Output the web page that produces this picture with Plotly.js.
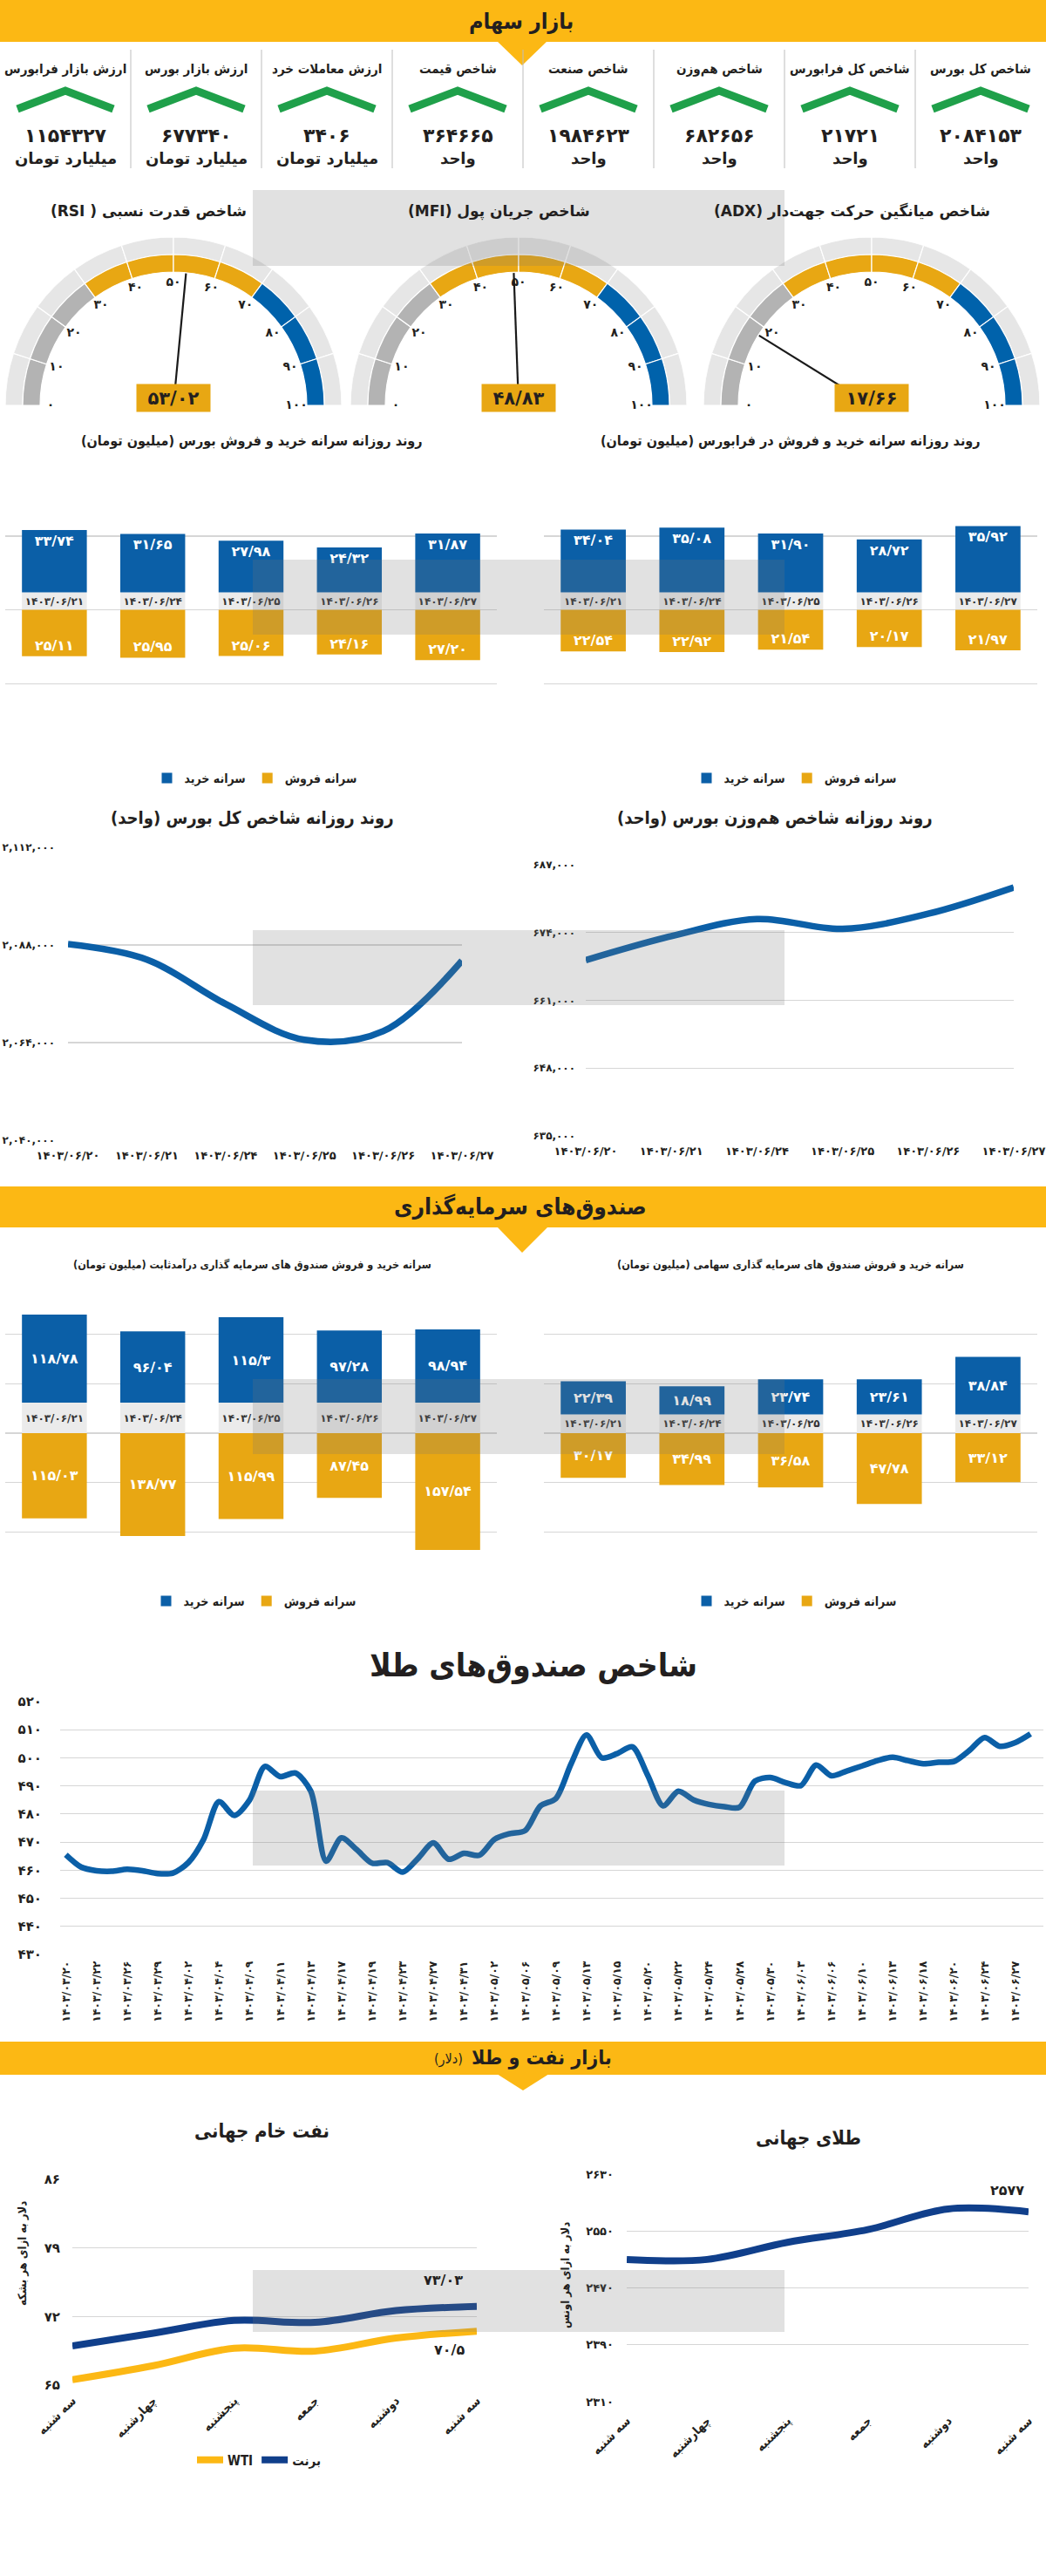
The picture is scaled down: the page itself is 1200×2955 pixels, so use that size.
<!DOCTYPE html>
<html>
<head>
<meta charset="utf-8">
<script src="https://cdn.plot.ly/plotly-3.0.1.min.js"></script>
<style>
  html, body { margin: 0; padding: 0; background: #fff; }
  #myPlot { width: 1200px; height: 2955px; }
</style>
</head>
<body>
<div id="myPlot"></div>
<script>
// ---------- data ----------
const cardTitles = ["شاخص کل بورس", "شاخص کل فرابورس", "شاخص هم‌وزن", "شاخص صنعت",
    "شاخص قیمت", "ارزش معاملات خرد", "ارزش بازار بورس", "ارزش بازار فرابورس"];
const cardValues = [2084153, 21721, 682656, 1984623, 364665, 3406, 677340, 1154327];
const cardUnits = ["واحد", "واحد", "واحد", "واحد", "واحد", "میلیارد تومان", "میلیارد تومان", "میلیارد تومان"];

const gaugeTitles = ["شاخص قدرت نسبی ( RSI)", "شاخص جریان پول (MFI)", "شاخص میانگین حرکت جهت‌دار (ADX)"];
const gaugeValues = [53.02, 48.83, 17.66];
const gaugeTicks = [0, 10, 20, 30, 40, 50, 60, 70, 80, 90, 100];

const tradeDates = ["1403/06/21", "1403/06/24", "1403/06/25", "1403/06/26", "1403/06/27"];
const bourseBuy = [33.74, 31.65, 27.98, 24.32, 31.87];
const bourseSell = [25.11, 25.95, 25.06, 24.16, 27.20];
const faraBuy = [34.04, 35.08, 31.90, 28.72, 35.92];
const faraSell = [22.54, 22.92, 21.54, 20.17, 21.97];

const indexDates = ["1403/06/20", "1403/06/21", "1403/06/24", "1403/06/25", "1403/06/26", "1403/06/27"];
const totalIndex = [2088200, 2084400, 2073500, 2064700, 2066800, 2084153];
const totalTicks = [2040000, 2064000, 2088000, 2112000];
const ewIndex = [668700, 673300, 676600, 674700, 677600, 682656];
const ewTicks = [635000, 648000, 661000, 674000, 687000];

const fixedBuy = [118.78, 96.04, 115.3, 97.28, 98.94];
const fixedSell = [115.03, 138.77, 115.99, 87.45, 157.54];
const equityBuy = [22.39, 18.99, 23.74, 23.61, 38.84];
const equitySell = [30.17, 34.99, 36.58, 47.78, 33.12];

const goldFundDates = ["1403/03/20", "1403/03/22", "1403/03/26", "1403/03/29", "1403/04/02", "1403/04/04",
    "1403/04/09", "1403/04/11", "1403/04/13", "1403/04/17", "1403/04/19", "1403/04/23", "1403/04/27",
    "1403/04/31", "1403/05/02", "1403/05/06", "1403/05/09", "1403/05/13", "1403/05/15", "1403/05/20",
    "1403/05/22", "1403/05/24", "1403/05/28", "1403/05/30", "1403/06/03", "1403/06/06", "1403/06/10",
    "1403/06/13", "1403/06/18", "1403/06/20", "1403/06/24", "1403/06/27"];
const goldFundIndex = [465.5, 461.1, 459.8, 459.6, 460.3, 459.8, 458.8, 459.0, 462.7, 471.0,
    484.4, 479.5, 485.0, 496.9, 493.3, 494.6, 488.1, 463.2, 471.5, 467.3,
    462.5, 462.7, 459.3, 464.2, 469.7, 463.9, 466.0, 465.3, 471.0, 473.0,
    474.1, 482.9, 485.5, 497.9, 508.1, 500.0, 501.5, 503.9, 493.8, 482.9,
    488.1, 485.0, 483.4, 482.6, 482.4, 491.7, 493.0, 491.2, 490.1, 497.4,
    493.6, 495.3, 497.1, 499.0, 500.2, 499.0, 497.9, 498.4, 498.7, 502.6,
    507.2, 504.1, 505.4, 508.5];
const goldFundTicks = [430, 440, 450, 460, 470, 480, 490, 500, 510, 520];

const weekDays = ["سه شنبه", "چهارشنبه", "پنجشنبه", "جمعه", "دوشنبه", "سه شنبه"];
const brent = [69.0, 70.3, 71.6, 71.4, 72.6, 73.03];
const wti = [65.55, 66.98, 68.76, 68.46, 69.8, 70.5];
const oilTicks = [65, 72, 79, 86];
const goldPrice = [2510, 2510, 2534, 2552, 2581, 2577];
const goldTicks = [2310, 2390, 2470, 2550, 2630];

// ---------- helpers ----------
const W = 1200, H = 2955;
const FONT = "DejaVu Sans";
const CFONT = "DejaVu Sans Condensed, DejaVu Sans";
const DARK = "#231f20";
const BLUE = "#0b5fa7";
const GOLD = "#e8a713";
const NAVY = "#103f8b";
const YELLOW = "#fcb814";
const GRID = "#d6d6d6";
const BAND = "#ebebeb";

const px = x => x / W;
const py = y => 1 - y / H;
const rtl = s => "\u202B" + s + "\u202C";
const FA = "۰۱۲۳۴۵۶۷۸۹";
const fa = s => String(s).replace(/[0-9]/g, d => FA[d]).replace(/\./g, "/");
const fnt = (size, color, weight) => ({ family: FONT, size: size, color: color || DARK, weight: weight || "bold" });
const cfnt = (size, color, weight) => ({ family: CFONT, size: size, color: color || DARK, weight: weight || "bold" });
const thousands = v => fa(v.toLocaleString("en-US"));

const data = [];
const annotations = [];
const shapes = [];

function note(text, x, y, font, extra) {
    return Object.assign({
        text: text, x: px(x), y: py(y), xref: "paper", yref: "paper",
        showarrow: false, xanchor: "center", yanchor: "middle", font: font
    }, extra || {});
}
function path(points, close) {
    return points.map((p, i) => (i ? "L" : "M") + px(p[0]) + "," + py(p[1])).join(" ") + (close ? " Z" : "");
}
function box(x0, y0, x1, y1, color, layer) {
    return { type: "rect", xref: "paper", yref: "paper", x0: px(x0), x1: px(x1), y0: py(y1), y1: py(y0),
        fillcolor: color, line: { width: 0 }, layer: layer || "below" };
}

const layout = {
    width: W, height: H, margin: { l: 0, r: 0, t: 0, b: 0 },
    paper_bgcolor: "#fff", plot_bgcolor: "rgba(0,0,0,0)",
    font: { family: FONT, color: DARK },
    barmode: "relative", bargap: 0.34, hovermode: false
};

// ---------- banners ----------
shapes.push(box(0, 0, W, 48, YELLOW));
shapes.push({ type: "path", xref: "paper", yref: "paper", path: path([[570, 47], [599, 75], [628, 47]], true), fillcolor: YELLOW, line: { width: 0 } });
annotations.push(note(rtl("بازار سهام"), 598, 25, cfnt(25)));

shapes.push(box(0, 1361, W, 1408, YELLOW));
shapes.push({ type: "path", xref: "paper", yref: "paper", path: path([[570, 1407], [599, 1437], [629, 1407]], true), fillcolor: YELLOW, line: { width: 0 } });
annotations.push(note(rtl("صندوق‌های سرمایه‌گذاری"), 597, 1384, cfnt(26)));

shapes.push(box(0, 2342, W, 2380, YELLOW));
shapes.push({ type: "path", xref: "paper", yref: "paper", path: path([[570, 2379], [600, 2398], [630, 2379]], true), fillcolor: YELLOW, line: { width: 0 } });
annotations.push(note(rtl("بازار نفت و طلا"), 704, 2360, cfnt(23), { xanchor: "right" }));
annotations.push(note(rtl("(دلار)"), 533, 2362, cfnt(16, DARK, "normal"), { xanchor: "right" }));

// ---------- summary cards ----------
cardTitles.forEach((t, i) => {
    const cx = 1125 - 150 * i;
    annotations.push(note(rtl(t), cx, 79, cfnt(15)));
    annotations.push(note(fa(cardValues[i]), cx, 155, fnt(22)));
    annotations.push(note(rtl(cardUnits[i]), cx, 182, fnt(18)));
    shapes.push({ type: "path", xref: "paper", yref: "paper", path: path([[cx - 55, 125], [cx, 104], [cx + 55, 125]]),
        line: { color: "#1fa04a", width: 9 } });
    if (i < cardTitles.length - 1) {
        shapes.push({ type: "line", xref: "paper", yref: "paper", x0: px(cx - 75), x1: px(cx - 75), y0: py(57), y1: py(193),
            line: { color: "#bdbdbd", width: 1 } });
    }
});

// ---------- gauges ----------
const gaugeCx = [199, 595, 1000];
const GR = 193, GY = 465;
const gaugeTitleX = [171, 572, 977];
gaugeValues.forEach((v, k) => {
    const sub = k ? "polar" + (k + 1) : "polar";
    layout[sub] = {
        domain: { x: [px(gaugeCx[k] - GR), px(gaugeCx[k] + GR)], y: [py(GY), py(GY - GR)] },
        sector: [0, 180], bgcolor: "rgba(0,0,0,0)",
        radialaxis: { visible: false, range: [0, GR] },
        angularaxis: { visible: false, rotation: 180, direction: "clockwise" }
    };
    const seg = gaugeTicks.slice(0, -1);
    const segTheta = seg.map(t => (t + 5) * 1.8);
    const segColor = seg.map(t => t < 30 ? "#b3b3b3" : t < 70 ? GOLD : "#0062ab");
    data.push({ type: "barpolar", subplot: sub, theta: segTheta, r: seg.map(() => 20), base: 173, width: 18,
        marker: { color: "#e6e6e6", line: { color: "#fff", width: 1.2 } }, showlegend: false, hoverinfo: "skip" });
    data.push({ type: "barpolar", subplot: sub, theta: segTheta, r: seg.map(() => 20), base: 153, width: 18,
        marker: { color: segColor, line: { color: "#fff", width: 1.2 } }, showlegend: false, hoverinfo: "skip" });
    data.push({ type: "scatterpolar", subplot: sub, mode: "text", r: gaugeTicks.map(() => 141),
        theta: gaugeTicks.map(t => t * 1.8), text: gaugeTicks.map(fa), textfont: fnt(14),
        cliponaxis: false, showlegend: false, hoverinfo: "skip" });
    data.push({ type: "scatterpolar", subplot: sub, mode: "lines", r: [0, 152], theta: [v * 1.8, v * 1.8],
        line: { color: "#1a1a1a", width: 2.2 }, showlegend: false, hoverinfo: "skip" });
    annotations.push(note(fa(v.toFixed(2)), gaugeCx[k], 456, fnt(21), { bgcolor: GOLD, width: 84, height: 31, borderpad: 0 }));
    annotations.push(note(rtl(gaugeTitles[k]), gaugeTitleX[k], 242, fnt(17)));
});

// ---------- per-capita bar charts ----------
function barSet(ax, x0, x1, y0, y1, lim, gridVals, bandPx, buy, sell, anchor, fmt, legendId) {
    const xa = "x" + ax, ya = "y" + ax;
    layout["xaxis" + ax] = { domain: [px(x0), px(x1)], anchor: ya, type: "category",
        showticklabels: false, showgrid: false, zeroline: false, showline: false, fixedrange: true };
    layout["yaxis" + ax] = { domain: [py(y1), py(y0)], anchor: xa, range: [-lim, lim],
        tickmode: "array", tickvals: gridVals, showticklabels: false, gridcolor: GRID, gridwidth: 1.5,
        zeroline: false, showline: false, fixedrange: true };
    const bandUnits = bandPx * 2 * lim / (y1 - y0);
    const cats = tradeDates.map(fa);
    const common = { type: "bar", x: cats, xaxis: xa, yaxis: ya, textposition: "inside",
        constraintext: "none", textangle: 0, hoverinfo: "skip" };
    data.push(Object.assign({}, common, { y: cats.map(() => bandUnits), marker: { color: BAND },
        text: cats, insidetextanchor: "middle", textfont: fnt(12, "#333"), showlegend: false }));
    data.push(Object.assign({}, common, { name: rtl("سرانه خرید"), y: buy, marker: { color: BLUE },
        text: buy.map(v => fa(fmt(v))), insidetextanchor: anchor, textfont: fnt(16, "#fff"), legend: legendId }));
    data.push(Object.assign({}, common, { name: rtl("سرانه فروش"), y: sell.map(v => -v), marker: { color: GOLD },
        text: sell.map(v => fa(fmt(v))), insidetextanchor: anchor, textfont: fnt(16, "#fff"), legend: legendId }));
}
const two = v => v.toFixed(2);
const plain = v => String(v);
const thirds = lim => [-3, -2, -1, 0, 1, 2, 3].map(k => k * lim / 3);
barSet("", 6, 570, 530, 869, 80, [-80, -40, 0, 40, 80], 20, bourseBuy, bourseSell, "end", two, "legend2");
barSet("2", 624, 1190, 530, 869, 80, [-80, -40, 0, 40, 80], 20, faraBuy, faraSell, "end", two, "legend3");
barSet("5", 6, 570, 1474, 1814, 200, thirds(200), 35, fixedBuy, fixedSell, "middle", plain, "legend4");
barSet("6", 624, 1190, 1474, 1814, 100, thirds(100), 21.5, equityBuy, equitySell, "middle", plain, "legend5");

annotations.push(note(rtl("روند روزانه سرانه خرید و فروش بورس (میلیون تومان)"), 289, 505, cfnt(16)));
annotations.push(note(rtl("روند روزانه سرانه خرید و فروش در فرابورس (میلیون تومان)"), 907, 505, cfnt(16)));
annotations.push(note(rtl("سرانه خرید و فروش صندوق های سرمایه گذاری درآمدثابت (میلیون تومان)"), 289, 1450, cfnt(12.5)));
annotations.push(note(rtl("سرانه خرید و فروش صندوق های سرمایه گذاری سهامی (میلیون تومان)"), 907, 1450, cfnt(12.5)));

const legendBase = { orientation: "h", xanchor: "center", yanchor: "middle", font: cfnt(14),
    bgcolor: "rgba(0,0,0,0)", traceorder: "normal", itemwidth: 30 };
layout.legend2 = Object.assign({}, legendBase, { x: px(293), y: py(893) });
layout.legend3 = Object.assign({}, legendBase, { x: px(912), y: py(893) });
layout.legend4 = Object.assign({}, legendBase, { x: px(292), y: py(1837) });
layout.legend5 = Object.assign({}, legendBase, { x: px(912), y: py(1837) });

// ---------- daily index lines ----------
function lineAxes(ax, x0, x1, y0, y1, range, ticks, xfont, yfont, xstand, ystand) {
    layout["xaxis" + ax] = { domain: [px(x0), px(x1)], anchor: "y" + ax, showgrid: false, zeroline: false,
        showline: false, ticks: "", tickfont: fnt(xfont), ticklabelstandoff: xstand, fixedrange: true };
    layout["yaxis" + ax] = { domain: [py(y1), py(y0)], anchor: "x" + ax, range: range, tickmode: "array",
        tickvals: ticks, gridcolor: GRID, gridwidth: 1.2, zeroline: false, showline: false, ticks: "",
        tickfont: fnt(yfont), ticklabelstandoff: ystand, fixedrange: true };
}
lineAxes("3", 78, 530, 972, 1308, [2040000, 2112000], totalTicks, 13, 12, 8, 14);
layout.yaxis3.ticktext = totalTicks.map(thousands);
Object.assign(layout.xaxis3, { type: "category", range: [0, 5] });
data.push({ type: "scatter", mode: "lines", x: indexDates.map(fa), y: totalIndex, xaxis: "x3", yaxis: "y3",
    line: { color: BLUE, width: 7.5, shape: "spline", smoothing: 1 }, showlegend: false, hoverinfo: "skip" });
annotations.push(note(rtl("روند روزانه شاخص کل بورس (واحد)"), 289, 938, cfnt(20)));

lineAxes("4", 672, 1163, 992, 1303, [635000, 687000], ewTicks, 13, 12, 8, 11);
layout.yaxis4.ticktext = ewTicks.map(thousands);
Object.assign(layout.xaxis4, { type: "category", range: [0, 5] });
data.push({ type: "scatter", mode: "lines", x: indexDates.map(fa), y: ewIndex, xaxis: "x4", yaxis: "y4",
    line: { color: BLUE, width: 7.5, shape: "spline", smoothing: 1 }, showlegend: false, hoverinfo: "skip" });
annotations.push(note(rtl("روند روزانه شاخص هم‌وزن بورس (واحد)"), 889, 938, cfnt(20)));

// ---------- gold funds index ----------
lineAxes("7", 69, 1197, 1952, 2242, [430, 520], goldFundTicks, 12.5, 15, 4, 20);
layout.yaxis7.ticktext = goldFundTicks.map(fa);
Object.assign(layout.xaxis7, { range: [-0.37, 63.84], tickmode: "array",
    tickvals: goldFundDates.map((_, i) => 2 * i), ticktext: goldFundDates.map(fa), tickangle: -90 });
data.push({ type: "scatter", mode: "lines", x: goldFundIndex.map((_, i) => i), y: goldFundIndex,
    xaxis: "x7", yaxis: "y7", line: { color: BLUE, width: 6.5, shape: "spline", smoothing: 0.8 },
    showlegend: false, hoverinfo: "skip" });
annotations.push(note(rtl("شاخص صندوق‌های طلا"), 612, 1910, cfnt(37)));

// ---------- world oil ----------
lineAxes("8", 83, 547, 2500, 2736, [65, 86], oilTicks, 13, 15, 6, 13);
layout.yaxis8.ticktext = oilTicks.map(fa);
Object.assign(layout.xaxis8, { range: [0, 5], tickmode: "array", tickvals: weekDays.map((_, i) => i),
    ticktext: weekDays.map(rtl), tickangle: -45, tickfont: cfnt(14) });
data.push({ type: "scatter", mode: "lines", name: "WTI", x: wti.map((_, i) => i), y: wti, xaxis: "x8", yaxis: "y8",
    line: { color: YELLOW, width: 8, shape: "spline", smoothing: 1 }, hoverinfo: "skip", legend: "legend" });
data.push({ type: "scatter", mode: "lines", name: rtl("برنت"), x: brent.map((_, i) => i), y: brent, xaxis: "x8", yaxis: "y8",
    line: { color: NAVY, width: 8, shape: "spline", smoothing: 1 }, hoverinfo: "skip", legend: "legend" });
layout.legend = Object.assign({}, legendBase, { x: px(297), y: py(2822), font: cfnt(15) });
annotations.push({ xref: "x8", yref: "y8", x: 5, y: brent[5], text: fa(String(brent[5])), showarrow: false,
    xanchor: "right", yanchor: "middle", xshift: -14, yshift: 30, font: fnt(16) });
annotations.push({ xref: "x8", yref: "y8", x: 5, y: wti[5], text: fa(String(wti[5])), showarrow: false,
    xanchor: "right", yanchor: "middle", xshift: -12, yshift: -21, font: fnt(16) });
annotations.push(note(rtl("نفت خام جهانی"), 300, 2445, cfnt(22)));
annotations.push(note(rtl("دلار به ازای هر بشکه"), 25, 2585, cfnt(13), { textangle: -90 }));

// ---------- world gold ----------
lineAxes("9", 719, 1180, 2494, 2755, [2310, 2630], goldTicks, 13, 13, 10, 14);
layout.yaxis9.ticktext = goldTicks.map(fa);
Object.assign(layout.xaxis9, { range: [0, 5], tickmode: "array", tickvals: weekDays.map((_, i) => i),
    ticktext: weekDays.map(rtl), tickangle: -45, tickfont: cfnt(14) });
data.push({ type: "scatter", mode: "lines", x: goldPrice.map((_, i) => i), y: goldPrice, xaxis: "x9", yaxis: "y9",
    line: { color: NAVY, width: 8, shape: "spline", smoothing: 1 }, showlegend: false, hoverinfo: "skip" });
annotations.push({ xref: "x9", yref: "y9", x: 5, y: goldPrice[5], text: fa(String(goldPrice[5])), showarrow: false,
    xanchor: "right", yanchor: "middle", xshift: -3, yshift: 25, font: fnt(16) });
annotations.push(note(rtl("طلای جهانی"), 927, 2453, cfnt(22)));
annotations.push(note(rtl("دلار به ازای هر اونس"), 648, 2610, cfnt(13), { textangle: -90 }));

// ---------- watermark panels ----------
[[218, 305], [642, 728], [1067, 1153], [1582, 1668], [2054, 2140], [2604, 2675]].forEach(r => {
    shapes.push(box(290, r[0], 900, r[1], "rgba(120,120,120,0.22)", "above"));
});

layout.annotations = annotations;
layout.shapes = shapes;

Plotly.newPlot("myPlot", data, layout, { staticPlot: true, displayModeBar: false });
</script>
</body>
</html>
